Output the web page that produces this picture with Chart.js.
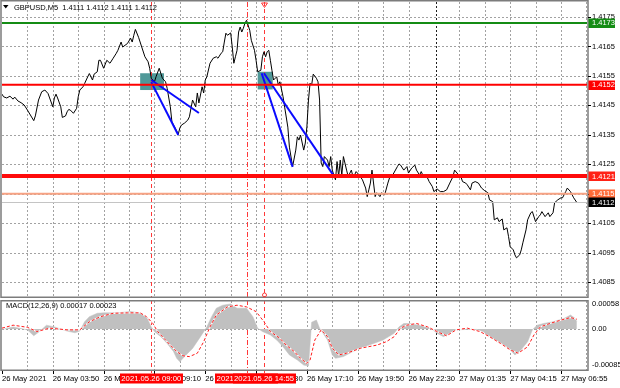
<!DOCTYPE html>
<html><head><meta charset="utf-8">
<script src="https://cdn.jsdelivr.net/npm/chart.js@4.4.1/dist/chart.umd.min.js"></script>
<style>
html,body{margin:0;padding:0;background:#fff;}
#wrap{position:relative;width:620px;height:388px;overflow:hidden;background:#fff;}
canvas{position:absolute;left:0;}
</style></head><body>
<div id="wrap">
<canvas id="priceCanvas" width="620" height="300" style="top:0;width:620px;height:300px"></canvas>
<canvas id="macdCanvas" width="620" height="88" style="top:300px;width:620px;height:88px"></canvas>
</div>
<script>
// ---------- DATA ----------
const symbolTitle = 'GBPUSD,M5  1.4111 1.4112 1.4111 1.4112';
const macdTitle = 'MACD(12,26,9) 0.00017 0.00023';

// bar number (5-minute bars from 26 May 01:10) and close price
const barIndex = [
 0,1,3,5,7,8,10,12,14,16,
 19,20,21,23,25,27,29,30,32,33,
 34,35,37,38,40,41,42,43,45,47,
 48,49,51,52,54,55,57,58,60,61,
 62,64,66,68,70,72,73,75,76,79,
 81,82,83,84,86,88,90,92,93,94,
 96,97,99,101,103,104,106,107,109,111,
 112,113,115,117,118,120,122,123,124,126,
 127,128,129,131,133,135,136,138,139,140,
 141,142,144,145,146,147,148,149,150,151,
 152,153,154,156,157,159,160,161,163,164,
 165,166,167,168,169,170,171,173,174,175,
 177,178,180,181,183,185,186,187,188,190,
 191,192,193,194,195,196,198,199,200,201,
 202,203,205,206,207,208,209,210,211,212,
 213,214,215,217,218,220,221,222,223,225,
 227,229,230,231,232,233,235,236,238,239,
 241,243,244,246,249,250,251,253,255,256,
 258,260,261,263,264,265,268,269,271,272,
 274,276,278,280,282,284,285,287,289,290,
 292,293,295,296,298,300,302,304,306,307,
 309,310,312,313,315,316,318,319,320,322,
 323,324,326,327,328,330,331,333,334,336,
 338,339,340,342,344,345,347,348,350,352,
 353,355,356,358,360,362];
const closePrice = [
 1.41488,1.41479,1.41475,1.41481,1.41471,1.41478,1.41465,1.41459,1.41451,1.41434,
 1.41407,1.41398,1.41414,1.41468,1.41496,1.41502,1.41490,1.41475,1.41445,1.41475,
 1.41488,1.41475,1.41445,1.41409,1.41414,1.41428,1.41436,1.41434,1.41423,1.41440,
 1.41479,1.41502,1.41513,1.41524,1.41547,1.41558,1.41536,1.41556,1.41564,1.41603,
 1.41603,1.41576,1.41603,1.41593,1.41610,1.41627,1.41637,1.41665,1.41648,1.41660,
 1.41678,1.41665,1.41688,1.41708,1.41681,1.41648,1.41615,1.41598,1.41576,1.41542,
 1.41530,1.41547,1.41576,1.41542,1.41530,1.41508,1.41445,1.41394,1.41373,1.41352,
 1.41373,1.41383,1.41390,1.41400,1.41411,1.41468,1.41445,1.41492,1.41458,1.41513,
 1.41492,1.41536,1.41547,1.41593,1.41610,1.41615,1.41610,1.41627,1.41632,1.41665,
 1.41695,1.41688,1.41696,1.41648,1.41593,1.41615,1.41637,1.41699,1.41716,1.41699,
 1.41712,1.41729,1.41739,1.41705,1.41671,1.41637,1.41603,1.41564,1.41569,1.41615,
 1.41632,1.41615,1.41632,1.41637,1.41603,1.41569,1.41536,1.41547,1.41519,1.41530,
 1.41479,1.41444,1.41376,1.41308,1.41242,1.41298,1.41343,1.41332,1.41349,1.41298,
 1.41322,1.41377,1.41468,1.41525,1.41519,1.41556,1.41542,1.41530,1.41468,1.41254,
 1.41242,1.41276,1.41264,1.41242,1.41276,1.41230,1.41213,1.41197,1.41259,1.41208,
 1.41264,1.41213,1.41276,1.41230,1.41208,1.41230,1.41208,1.41213,1.41225,1.41213,
 1.41197,1.41169,1.41140,1.41163,1.41186,1.41230,1.41140,1.41153,1.41140,1.41153,
 1.41146,1.41186,1.41203,1.41213,1.41242,1.41251,1.41247,1.41230,1.41242,1.41220,
 1.41237,1.41247,1.41230,1.41213,1.41225,1.41213,1.41203,1.41191,1.41174,1.41157,
 1.41166,1.41157,1.41157,1.41163,1.41186,1.41208,1.41230,1.41217,1.41208,1.41191,
 1.41186,1.41180,1.41163,1.41186,1.41191,1.41186,1.41169,1.41160,1.41153,1.41129,
 1.41123,1.41061,1.41068,1.41055,1.41064,1.41027,1.41034,1.41004,1.40970,1.40959,
 1.40942,1.40932,1.40942,1.40959,1.40983,1.41027,1.41061,1.41085,1.41089,1.41055,
 1.41072,1.41078,1.41089,1.41072,1.41085,1.41072,1.41085,1.41119,1.41129,1.41136,
 1.41136,1.41157,1.41169,1.41157,1.41136,1.41120];

// MACD main (histogram)
const macdBarIndex = [
 0,7,16,20,24,28,33,41,46,49,
 52,55,60,64,72,81,87,91,94,96,
 100,104,108,110,112,114,117,120,125,129,
 132,135,139,144,148,154,158,161,164,169,
 173,177,181,186,190,193,195,198,200,205,
 208,210,215,221,228,234,240,247,250,253,
 257,263,270,274,278,282,286,293,299,303,
 307,312,316,320,323,326,331,334,337,341,
 347,354,358,361,362];
const macdMain = [
 -0.00001,0.00005,-0.00002,-0.00016,-0.00005,0.00009,0.00005,-0.00005,-0.00009,-0.00005,
 0.00017,0.00029,0.00037,0.00038,0.00038,0.00041,0.00038,0.00029,0.00005,-0.00006,
 -0.00018,-0.00034,-0.00053,-0.00069,-0.00077,-0.00069,-0.00057,-0.00046,-0.00018,0.00005,
 0.00029,0.00049,0.00056,0.00059,0.00049,0.00049,0.00029,0.00002,-0.00006,-0.00014,
 -0.00026,-0.00042,-0.00061,-0.00073,-0.00085,-0.00087,0.00016,0.00021,0.00002,-0.00026,
 -0.00061,-0.00069,-0.00065,-0.00053,-0.00042,-0.00034,-0.00026,-0.00010,0.00005,0.00013,
 0.00013,0.00009,0.00002,-0.00010,-0.00018,-0.00010,-0.00002,-0.00001,-0.00001,-0.00006,
 -0.00018,-0.00030,-0.00038,-0.00049,-0.00061,-0.00053,-0.00030,-0.00002,0.00009,0.00013,
 0.00017,0.00025,0.00033,0.00025,0.00017];

// MACD signal line
const signalBarIndex = [
 0,7,16,22,30,41,49,55,62,70,
 79,87,91,95,98,102,106,110,114,118,
 123,127,131,135,142,148,154,160,165,169,
 175,179,184,188,192,194,197,201,205,208,
 212,217,226,236,242,247,251,255,261,268,
 274,280,286,293,301,307,314,320,325,331,
 335,339,345,352,358,362];
const signalValues = [
 0.00002,0.00009,0.00004,-0.00006,0.00002,-0.00002,-0.00002,0.00017,0.00029,0.00037,
 0.00038,0.00038,0.00029,0.00013,-0.00006,-0.00022,-0.00038,-0.00053,-0.00063,-0.00065,
 -0.00057,-0.00030,0.00005,0.00033,0.00052,0.00056,0.00052,0.00041,0.00017,-0.00006,
 -0.00022,-0.00038,-0.00053,-0.00069,-0.00081,-0.00073,-0.00026,-0.00002,-0.00018,-0.00045,
 -0.00061,-0.00057,-0.00045,-0.00038,-0.00030,-0.00018,0.00002,0.00009,0.00013,0.00005,
 -0.00006,-0.00016,-0.00002,0.00002,-0.00006,-0.00018,-0.00034,-0.00049,-0.00057,-0.00042,
 -0.00014,0.00005,0.00013,0.00021,0.00027,0.00023];

const priceTicks = [1.4085,1.4095,1.4105,1.4115,1.4125,1.4135,1.4145,1.4155,1.4165,1.4175];
const macdTicks = [0.00058, 0, -0.00085];
const timeTickIndex = [0,32,64,96,128,160,192,224,256,288,320,352];
const timeTickLabels = ['26 May 2021','26 May 03:50','26 May 06:30','26 May 09:10','26 May 11:50','26 May 14:30',
  '26 May 17:10','26 May 19:50','26 May 22:30','27 May 01:35','27 May 04:15','27 May 06:55'];

// horizontal levels (price)
const levelPrices = [1.4173, 1.4152, 1.4121, 1.4115, 1.4112];
// vertical event lines (bar number) and their axis labels
const eventBars = [94, 154, 165];
const eventLabels = ['2021.05.26 09:00', '2021.05.26 14:00', '2021.05.26 14:55'];
// trend lines: start bar, start price, end bar, end price
const trendLines = [
  [94, 1.41536, 124, 1.41424],
  [94, 1.41529, 111, 1.41349],
  [163.5, 1.41559, 183, 1.41241],
  [165, 1.41559, 209.4, 1.41207]
];
// rectangles: start bar, end bar, top price, bottom price
const zones = [
  [87, 102, 1.41559, 1.41502],
  [161, 170.5, 1.41564, 1.41504]
];
const daySeparatorBar = 273;
const lastBar = 368.4;

// ---------- STYLE ----------
const FONT = '"Liberation Sans", Arial, sans-serif';
const GRID = '#a2a2a2';
const FRAME = '#7c7c7c';
const levelStyles = [
  {line:'#148c14', width:2, box:'#148c14'},
  {line:'#ff0000', width:2, box:'#ff0000'},
  {line:'#ff0a0a', width:4, box:'#ff2216'},
  {line:'#f7a283', width:2, box:'#ff6b38'},
  {line:'#c4c4c4', width:1, box:'#000000'}
];
const eventDash = [[4,3],[5,2,1,2],[4,3]];
const EVENT = '#ff3838';

function seg(ctx, x1, y1, x2, y2, color, width, dash) {
  ctx.save(); ctx.beginPath(); ctx.strokeStyle = color; ctx.lineWidth = width;
  ctx.setLineDash(dash || []); ctx.moveTo(x1, y1); ctx.lineTo(x2, y2); ctx.stroke(); ctx.restore();
}
const crisp = v => Math.round(v) + 0.5;

const whiteBg = {
  id: 'whiteBg',
  beforeDraw(chart) { const c = chart.ctx; c.save(); c.fillStyle = '#fff'; c.fillRect(0, 0, chart.width, chart.height); c.restore(); }
};

function drawVerticalGrid(chart) {
  const {ctx, chartArea: a, scales: {x}} = chart;
  for (let b = 16; b < lastBar; b += 16) {
    if (b === 272) continue;
    const px = crisp(x.getPixelForValue(b));
    seg(ctx, px, a.top, px, a.bottom, GRID, 1, [2, 2]);
  }
  const sx = crisp(x.getPixelForValue(daySeparatorBar));
  seg(ctx, sx, a.top, sx, a.bottom, '#202020', 1, [2, 2]);
}

const pricePanel = {
  id: 'pricePanel',
  beforeDatasetsDraw(chart) {
    const {ctx, chartArea: a, scales: {x, y}} = chart;
    priceTicks.forEach(v => {
      const py = crisp(y.getPixelForValue(v));
      seg(ctx, a.left, py, a.right, py, GRID, 1, [2, 2]);
    });
    drawVerticalGrid(chart);
    ctx.save();
    ctx.fillStyle = '#4f9898';
    zones.forEach(z => {
      const x1 = x.getPixelForValue(z[0]), x2 = x.getPixelForValue(z[1]);
      const y1 = y.getPixelForValue(z[2]), y2 = y.getPixelForValue(z[3]);
      ctx.fillRect(x1, y1, x2 - x1, y2 - y1);
    });
    ctx.restore();
    eventBars.forEach((b, i) => {
      const px = crisp(x.getPixelForValue(b));
      seg(ctx, px, a.top, px, a.bottom, EVENT, 1, eventDash[i]);
    });
  },
  afterDatasetsDraw(chart) {
    const {ctx, chartArea: a, scales: {y}} = chart;
    levelPrices.forEach((v, i) => {
      const st = levelStyles[i];
      let py = y.getPixelForValue(v);
      if (st.width === 1) py = crisp(py);
      seg(ctx, a.left, py, a.right, py, st.line, st.width);
    });
  },
  afterDraw(chart) {
    const {ctx, chartArea: a, scales: {x, y}} = chart;
    ctx.save();
    ctx.strokeStyle = FRAME; ctx.lineWidth = 1.5;
    ctx.strokeRect(1, 0.75, a.right, 296.5);
    ctx.restore();
    priceTicks.forEach(v => {
      const py = crisp(y.getPixelForValue(v));
      seg(ctx, a.right + 1, py, a.right + 4, py, '#000', 1);
    });
    ctx.save();
    ctx.font = '7.5px ' + FONT; ctx.textBaseline = 'middle'; ctx.textAlign = 'left';
    levelPrices.forEach((v, i) => {
      const py = y.getPixelForValue(v);
      ctx.fillStyle = levelStyles[i].box;
      ctx.fillRect(a.right + 1.5, Math.round(py) - 4.5, 26.5, 9.5);
      ctx.fillStyle = '#fff';
      ctx.fillText(v.toFixed(4), a.right + 5, py + 0.5);
    });
    ctx.restore();
    ctx.save();
    ctx.fillStyle = '#000';
    ctx.beginPath(); ctx.moveTo(3, 5); ctx.lineTo(8.5, 5); ctx.lineTo(5.75, 8.5); ctx.closePath(); ctx.fill();
    ctx.font = '7.5px ' + FONT; ctx.textBaseline = 'middle'; ctx.textAlign = 'left';
    ctx.fillText(symbolTitle, 14, 7.5);
    ctx.restore();
    const mx = crisp(x.getPixelForValue(eventBars[2]));
    ctx.save();
    ctx.strokeStyle = EVENT; ctx.lineWidth = 1;
    ctx.beginPath(); ctx.moveTo(mx - 3, 3); ctx.lineTo(mx + 3, 3); ctx.lineTo(mx, 7.5); ctx.closePath(); ctx.stroke();
    ctx.beginPath(); ctx.arc(mx, a.bottom - 2, 2, 0, Math.PI * 2); ctx.stroke();
    ctx.restore();
  }
};

const macdPanel = {
  id: 'macdPanel',
  beforeDatasetsDraw(chart) {
    const {ctx, chartArea: a, scales: {x, y}} = chart;
    const zy = crisp(y.getPixelForValue(0));
    seg(ctx, a.left, zy, a.right, zy, GRID, 1, [2, 2]);
    drawVerticalGrid(chart);
    eventBars.forEach((b, i) => {
      const px = crisp(x.getPixelForValue(b));
      seg(ctx, px, 0, px, a.bottom + 3, EVENT, 1, eventDash[i]);
    });
  },
  afterDraw(chart) {
    const {ctx, chartArea: a, scales: {x}} = chart;
    ctx.save();
    ctx.strokeStyle = FRAME; ctx.lineWidth = 1.5;
    ctx.strokeRect(1, 0.75, a.right, a.bottom - 0.5);
    ctx.restore();
    timeTickIndex.forEach(b => {
      const px = crisp(x.getPixelForValue(b));
      seg(ctx, px, a.bottom + 1, px, a.bottom + 4, '#000', 1);
    });
    ctx.save();
    ctx.font = '7.5px ' + FONT; ctx.textBaseline = 'middle'; ctx.textAlign = 'left'; ctx.fillStyle = '#000';
    ctx.fillText(macdTitle, 6, 5.5);
    ctx.restore();
    ctx.save();
    ctx.font = '7.7px ' + FONT; ctx.textBaseline = 'middle'; ctx.textAlign = 'center';
    eventBars.forEach((b, i) => {
      const px = x.getPixelForValue(b);
      const w = ctx.measureText(eventLabels[i]).width + 3;
      ctx.fillStyle = '#ff0000';
      ctx.fillRect(Math.round(px - w / 2), a.bottom + 3.5, Math.round(w), 10);
      ctx.fillStyle = '#fff';
      ctx.fillText(eventLabels[i], px, a.bottom + 8.8);
    });
    ctx.restore();
  }
};

const common = {
  responsive: false, maintainAspectRatio: false, animation: false, devicePixelRatio: 1, events: [],
  plugins: {legend: {display: false}, tooltip: {enabled: false}}
};

// ---------- PRICE CHART ----------
new Chart(document.getElementById('priceCanvas'), {
  type: 'line',
  data: {
    datasets: [
      ...trendLines.map(t => ({
        data: [{x: t[0], y: t[1]}, {x: t[2], y: t[3]}],
        borderColor: '#0a0aff', borderWidth: 2, pointRadius: 0, order: 1
      })),
      {
        data: barIndex.map((b, i) => ({x: b, y: closePrice[i]})),
        borderColor: '#000', borderWidth: 1, pointRadius: 0, tension: 0, order: 2
      }
    ]
  },
  options: Object.assign({}, common, {
    layout: {padding: {left: 2, top: 2, right: 0, bottom: 3}},
    scales: {
      x: {type: 'linear', min: 0, max: lastBar, display: false},
      y: {
        type: 'linear', position: 'right', min: 1.40799, max: 1.41801,
        grid: {display: false, drawTicks: false}, border: {display: false},
        ticks: {color: '#000', padding: 5, font: {family: FONT, size: 7.5}, callback: v => Number(v).toFixed(4)},
        afterBuildTicks: s => { s.ticks = priceTicks.map(v => ({value: v})); },
        afterFit: s => { s.width = 33; s.paddingTop = 0; s.paddingBottom = 0; }
      }
    }
  }),
  plugins: [whiteBg, pricePanel]
});

// ---------- MACD CHART ----------
new Chart(document.getElementById('macdCanvas'), {
  type: 'line',
  data: {
    datasets: [
      {
        data: signalBarIndex.map((b, i) => ({x: b, y: signalValues[i]})),
        borderColor: '#ff1a1a', borderWidth: 1, borderDash: [3, 2], pointRadius: 0, order: 1
      },
      {
        data: signalBarIndex.map((b, i) => ({x: b, y: signalValues[i]})),
        borderColor: '#ffffff', borderWidth: 1.2, pointRadius: 0, order: 2
      },
      {
        data: macdBarIndex.map((b, i) => ({x: b, y: macdMain[i]})),
        borderColor: '#c0c0c0', borderWidth: 0.5, backgroundColor: '#c0c0c0', fill: 'origin', pointRadius: 0, order: 3
      }
    ]
  },
  options: Object.assign({}, common, {
    layout: {padding: {left: 2, top: 1, right: 0, bottom: 0}},
    scales: {
      x: {
        type: 'linear', position: 'bottom', min: 0, max: lastBar,
        grid: {display: false, drawTicks: false}, border: {display: false},
        ticks: {color: '#000', padding: 4.5, align: 'start', maxRotation: 0, autoSkip: false,
          font: {family: FONT, size: 7.7}, callback: (v, i) => timeTickLabels[i]},
        afterBuildTicks: s => { s.ticks = timeTickIndex.map(v => ({value: v})); },
        afterFit: s => { s.height = 18; s.paddingLeft = 0; s.paddingRight = 0; }
      },
      y: {
        type: 'linear', position: 'right', min: -0.000965, max: 0.000659,
        grid: {display: false, drawTicks: false}, border: {display: false},
        ticks: {color: '#000', padding: 5, font: {family: FONT, size: 7.5},
          callback: v => (Math.abs(v) < 1e-9 ? '0.00' : Number(v).toFixed(5))},
        afterBuildTicks: s => { s.ticks = macdTicks.map(v => ({value: v})); },
        afterFit: s => { s.width = 33; s.paddingTop = 0; s.paddingBottom = 0; }
      }
    }
  }),
  plugins: [whiteBg, macdPanel]
});
</script>
</body></html>
